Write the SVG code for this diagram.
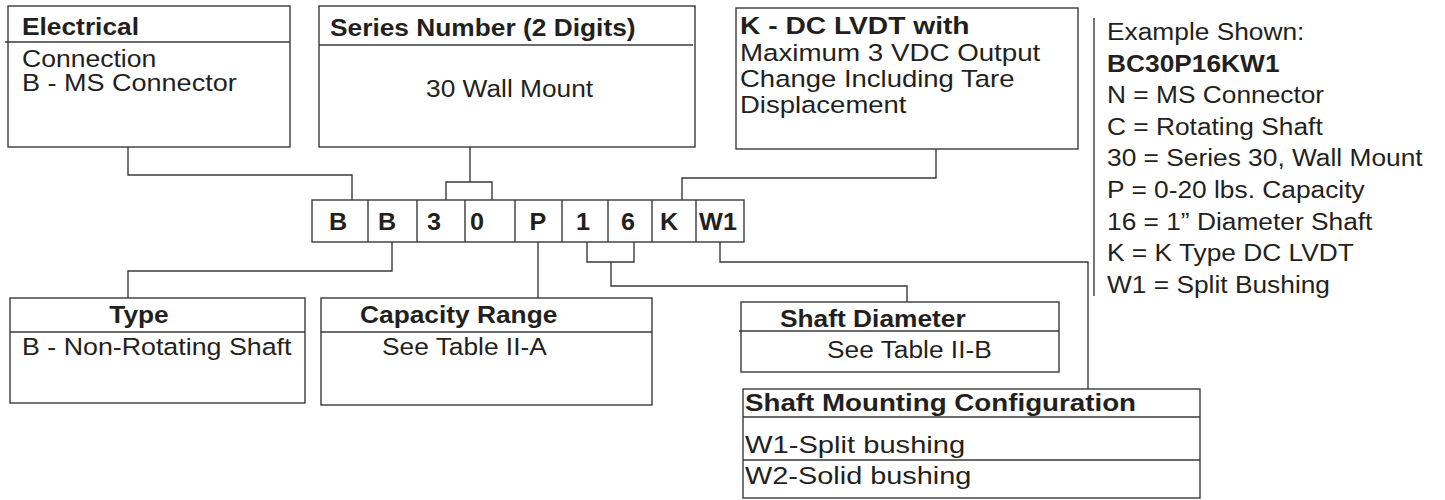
<svg xmlns="http://www.w3.org/2000/svg" width="1445" height="500" viewBox="0 0 1445 500">
<style>
.box{fill:#fff;stroke:#3a3a3a;stroke-width:1.4}
.ln{fill:none;stroke:#3a3a3a;stroke-width:1.4}
text{font-family:"Liberation Sans",Arial,Helvetica,sans-serif;font-size:23.5px;fill:#231f20}
.b{font-weight:bold}
.c{font-weight:bold;font-size:24px;text-anchor:middle}
.m{text-anchor:middle}
</style>
<rect width="1445" height="500" fill="#fff"/>
<g id="connectors">
<path class="ln" d="M128,147 V175 H352 V200"/>
<path class="ln" d="M470,147 V182 M446,200 V182 H492 V200"/>
<path class="ln" d="M936,149 V178 H682 V200"/>
<path class="ln" d="M392,242 V271 H128 V298"/>
<path class="ln" d="M538,242 V298"/>
<path class="ln" d="M587,242 V262 H634 V242 M611,262 V286 H907 V302"/>
<path class="ln" d="M720,242 V262 H1088 V389"/>
</g>
<g id="electrical">
<rect class="box" x="8" y="6" width="282" height="141"/>
<path class="ln" d="M5,42 H290"/>
<text class="b" transform="matrix(1.12 0 0 1 22 35)">Electrical</text>
<text transform="matrix(1.13 0 0 1 22 67)">Connection</text>
<text transform="matrix(1.15 0 0 1 22 91)">B - MS Connector</text>
</g>
<g id="series">
<rect class="box" x="319" y="6" width="376" height="141"/>
<path class="ln" d="M319,45 H693"/>
<text class="b" transform="matrix(1.12 0 0 1 330 36)">Series Number (2 Digits)</text>
<text transform="matrix(1.12 0 0 1 426 97)">30 Wall Mount</text>
</g>
<g id="lvdt">
<rect class="box" x="736" y="8" width="342" height="141"/>
<text class="b" transform="matrix(1.2 0 0 1 740 34)">K - DC LVDT with</text>
<text transform="matrix(1.18 0 0 1 740 61)">Maximum 3 VDC Output</text>
<text transform="matrix(1.17 0 0 1 740 87)">Change Including Tare</text>
<text transform="matrix(1.17 0 0 1 740 113)">Displacement</text>
</g>
<g id="example">
<path class="ln" d="M1094,18 V296"/>
<text transform="matrix(1.12 0 0 1 1107 40)">Example Shown:</text>
<text class="b" transform="matrix(1.12 0 0 1 1107 71.6)">BC30P16KW1</text>
<text transform="matrix(1.12 0 0 1 1107 103.2)">N = MS Connector</text>
<text transform="matrix(1.12 0 0 1 1107 134.8)">C = Rotating Shaft</text>
<text transform="matrix(1.12 0 0 1 1107 166.4)">30 = Series 30, Wall Mount</text>
<text transform="matrix(1.12 0 0 1 1107 198)">P = 0-20 lbs. Capacity</text>
<text transform="matrix(1.12 0 0 1 1107 229.6)">16 = 1” Diameter Shaft</text>
<text transform="matrix(1.12 0 0 1 1107 261.2)">K = K Type DC LVDT</text>
<text transform="matrix(1.12 0 0 1 1107 292.8)">W1 = Split Bushing</text>
</g>
<g id="code">
<rect class="box" x="312" y="200" width="432" height="42"/>
<path class="ln" d="M368,200 V242 M417,200 V242 M465,200 V242 M515,200 V242 M562,200 V242 M608,200 V242 M652,200 V242 M696,200 V242"/>
<text class="c" transform="matrix(1.05 0 0 1 338 230)">B</text>
<text class="c" transform="matrix(1.05 0 0 1 387 230)">B</text>
<text class="c" transform="matrix(1.05 0 0 1 434 230)">3</text>
<text class="c" transform="matrix(1.05 0 0 1 477 230)">0</text>
<text class="c" transform="matrix(1.05 0 0 1 538 230)">P</text>
<text class="c" transform="matrix(1.05 0 0 1 583 230)">1</text>
<text class="c" transform="matrix(1.05 0 0 1 628 230)">6</text>
<text class="c" transform="matrix(1.05 0 0 1 669 230)">K</text>
<text class="c" transform="matrix(1.05 0 0 1 718 230)">W1</text>
</g>
<g id="type">
<rect class="box" x="10" y="298" width="295" height="105"/>
<path class="ln" d="M10,332 H305"/>
<text class="b m" transform="matrix(1.12 0 0 1 139 323)">Type</text>
<text transform="matrix(1.14 0 0 1 22 355)">B - Non-Rotating Shaft</text>
</g>
<g id="capacity">
<rect class="box" x="321" y="298" width="331" height="107"/>
<path class="ln" d="M321,332 H652"/>
<text class="b" transform="matrix(1.12 0 0 1 360 323)">Capacity Range</text>
<text transform="matrix(1.12 0 0 1 382 355)">See Table II-A</text>
</g>
<g id="diameter">
<rect class="box" x="741" y="302" width="318" height="70"/>
<path class="ln" d="M739,331 H1059"/>
<text class="b" transform="matrix(1.12 0 0 1 780 327)">Shaft Diameter</text>
<text transform="matrix(1.12 0 0 1 827 358)">See Table II-B</text>
</g>
<g id="mounting">
<rect class="box" x="743" y="389" width="457" height="109"/>
<path class="ln" d="M743,417 H1200 M743,460 H1200"/>
<text class="b" transform="matrix(1.18 0 0 1 745 411)">Shaft Mounting Configuration</text>
<text transform="matrix(1.24 0 0 1 745 453)">W1-Split bushing</text>
<text transform="matrix(1.23 0 0 1 745 484)">W2-Solid bushing</text>
</g>
</svg>
